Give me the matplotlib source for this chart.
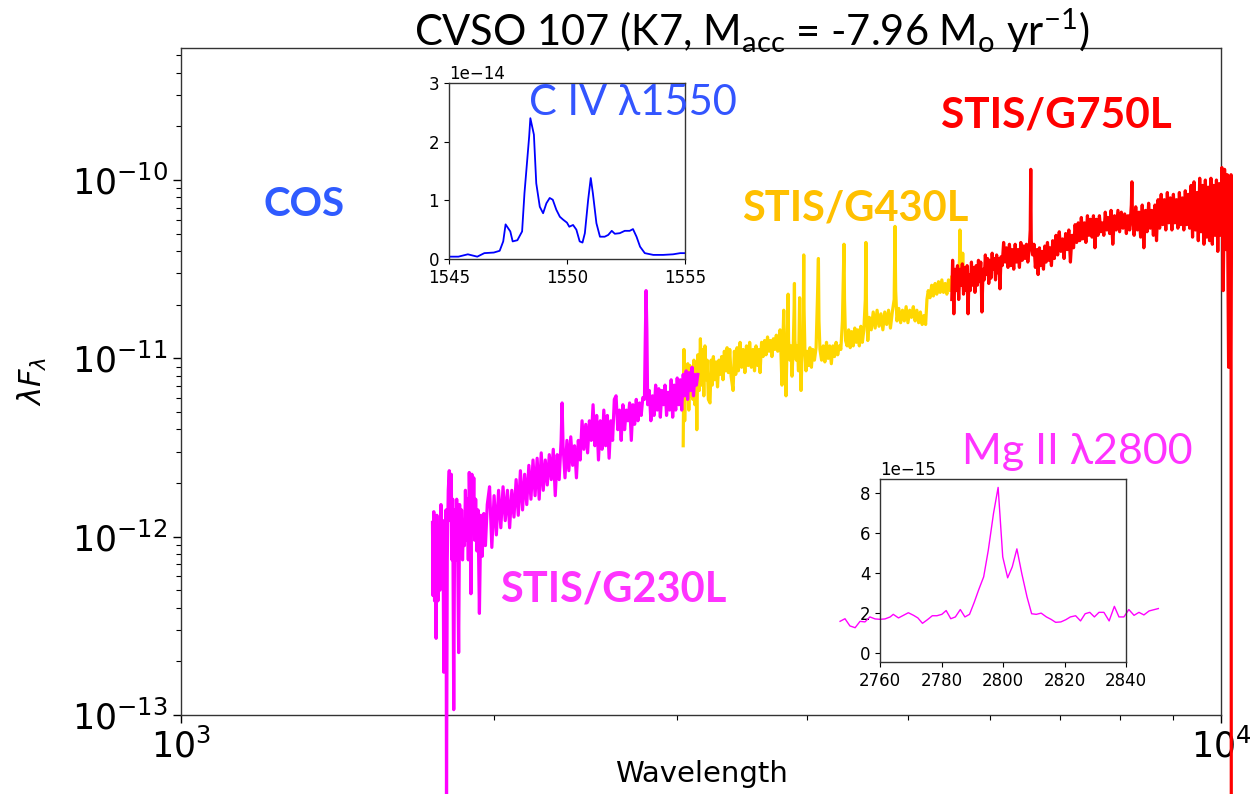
import numpy as np
import matplotlib
matplotlib.use("Agg")
import matplotlib.pyplot as plt

# ---------------- data ----------------
g230_wave = [1745,1747,1750,1753,1756,1759,1762,1766,1770,1774,1778,1782,1786,1789,1792,1795,1798,1800,1803,1807,
             1811,1815,1819,1822,1825,1829,1833,1837,1841,1845,1849,1853,1857,1861,1865,1869,1873,1877,1881,1885,
             1889,1893,1897,1900,1904,1908,1912,1916,1920,1925,1930,1936,1942,1948,1955,1962,1970,
             1980,1990,2000,2010,2020,2030,2040,2050,2060,2070,2080,2090,2100,2110,2120,2130,2140,2150,2160,2170,
             2180,2190,2200,2210,2220,2230,2240,2250,2260,2270,2280,2290,2300,2310,2320,2325,2330,2340,2350,2360,
             2370,2380,2390,2400,2410,2420,2430,2440,2450,2460,2470,2480,2490,2500,2510,2520,2530,2540,2550,2560,
             2570,2580,2590,2600,2610,2620,2630,2640,2650,2660,2670,2680,2690,2700,2710,2720,2730,2740,2750,2760,
             2770,2780,2790,2795,2800,2805,2810,2820,2830,2840,2850,2860,2870,2880,2890,2900,2910,2920,2930,2940,
             2950,2960,2970,2980,2990,3000,3010,3020,3030,3040,3050,3060,3070,3080,3090,3100,3110,3120,3130,3140]
g230_logf = [-11.92,-12.33,-11.86,-12.36,-11.91,-12.57,-11.88,-12.36,-11.96,-12.30,-11.82,-12.13,-11.91,-12.76,-12.02,-12.13,-11.85,-13.50,-12.13,-11.74,
             -11.63,-11.91,-11.65,-12.13,-11.79,-12.97,-11.85,-12.13,-11.79,-12.05,-12.65,-11.82,-12.08,-11.85,-12.13,-11.91,-12.05,-11.74,-12.02,-11.79,
             -12.13,-11.64,-11.91,-12.32,-11.65,-11.96,-11.67,-12.02,-11.79,-12.08,-11.85,-12.43,-11.88,-12.11,-11.87,-12.05,-11.82,
             -11.72,-12.06,-11.77,-11.99,-11.74,-11.95,-11.72,-11.91,-11.74,-11.95,-11.74,-11.89,-11.68,-11.88,-11.63,-11.85,-11.65,-11.82,-11.60,-11.79,
             -11.57,-11.77,-11.56,-11.79,-11.53,-11.74,-11.57,-11.71,-11.54,-11.68,-11.51,-11.77,-11.54,-11.68,-11.46,-11.25,-11.49,-11.67,-11.46,-11.63,
             -11.44,-11.60,-11.49,-11.67,-11.46,-11.57,-11.35,-11.51,-11.37,-11.53,-11.35,-11.46,-11.26,-11.49,-11.32,-11.57,-11.35,-11.51,-11.29,-11.49,
             -11.32,-11.56,-11.35,-11.46,-11.23,-11.21,-11.40,-11.29,-11.46,-11.26,-11.40,-11.29,-11.35,-11.25,-11.46,-11.26,-11.37,-11.23,-11.35,-11.25,
             -11.32,-11.22,-11.23,-10.90,-10.62,-10.84,-11.26,-11.18,-11.35,-11.21,-11.32,-11.15,-11.29,-11.17,-11.33,-11.18,-11.26,-11.15,-11.32,-11.19,
             -11.29,-11.12,-11.33,-11.15,-11.29,-11.11,-11.26,-11.12,-11.29,-11.09,-11.21,-11.07,-11.23,-11.08,-11.18,-11.05,-11.21,-11.09,-11.15,-11.09]

g430_wave = [3040,3045,3050,3057,3064,3071,3078,3085,3092,3099,3106,3113,3120,3127,3133,3140,3150,3158,3166,3174,
             3182,3190,3198,3206,3214,3226,3234,3242,3250,3260,3270,3280,3290,3300,3310,3320,3330,3340,3350,3360,
             3370,3380,3395,3405,3415,3425,3435,3448,3460,3472,3485,3497,3510,3522,3535,3548,3560,3572,3585,3595,
             3604,3616,3628,3640,3652,3664,3676,3688,3700,3712,3724,3736,3748,3760,3767,3775,3783,3790,3795,3798,
             3802,3810,3817,3825,3832,3835,3839,3850,3860,3868,3878,3886,3889,3893,3905,3915,3924,3931,3934,3938,
             3946,3955,3964,3968,3970,3973,3980,3990,4000,4012,4025,4038,4050,4065,4080,4092,4101,4106,4115,4130,
             4145,4160,4175,4190,4205,4220,4235,4250,4265,4280,4295,4310,4325,4340,4345,4355,4370,4385,4400,4415,
             4430,4445,4460,4475,4490,4505,4520,4535,4550,4556,4562,4575,4590,4610,4630,4650,4670,4690,4710,4730,
             4750,4770,4790,4810,4830,4850,4859,4866,4880,4900,4920,4940,4960,4980,5000,5020,5040,5060,5080,5100,
             5120,5140,5160,5180,5200,5215,5230,5250,5270,5290,5310,5330,5350,5370,5390,5410,5430,5450,5470,5490,
             5510,5530,5550,5570,5590,5605,5610,5615,5630,5645,5655,5670,5685,5698]
g430_logf = [-11.49,-10.95,-11.35,-11.04,-11.23,-11.03,-11.29,-11.04,-11.21,-11.07,-11.23,-11.01,-11.26,-11.05,-11.40,-10.98,-11.18,-10.89,-11.15,-10.95,
             -11.21,-10.93,-11.12,-11.01,-11.23,-11.25,-11.01,-11.15,-10.99,-11.12,-11.02,-11.16,-11.01,-11.09,-10.99,-11.12,-10.96,-11.07,-10.94,-11.08,
             -10.95,-11.10,-11.18,-10.96,-11.09,-10.94,-11.07,-10.91,-11.05,-10.95,-11.08,-10.93,-11.04,-10.91,-11.05,-10.95,-11.07,-10.93,-11.04,-10.95,
             -11.08,-10.91,-10.99,-10.90,-10.98,-10.88,-10.96,-10.90,-10.99,-10.89,-10.95,-10.87,-10.96,-10.88,-10.84,-10.98,-11.15,-10.90,-10.81,-10.73,
             -10.90,-11.04,-11.21,-10.95,-10.73,-10.64,-10.90,-11.01,-10.93,-11.10,-10.95,-10.73,-10.58,-10.90,-11.01,-10.93,-11.07,-10.79,-10.66,-10.90,
             -11.18,-10.98,-10.93,-10.62,-10.42,-10.73,-10.95,-11.07,-10.96,-11.04,-10.94,-11.05,-10.95,-11.01,-10.94,-10.67,-10.44,-10.79,-10.95,-11.01,
             -10.93,-11.02,-10.91,-11.00,-10.93,-11.03,-10.93,-10.99,-10.91,-10.98,-10.93,-10.95,-10.79,-10.36,-10.67,-10.90,-10.93,-10.84,-10.94,-10.85,
             -10.93,-10.83,-10.91,-10.84,-10.93,-10.82,-10.91,-10.84,-10.67,-10.35,-10.73,-10.90,-10.77,-10.84,-10.74,-10.83,-10.73,-10.82,-10.75,-10.84,
             -10.74,-10.81,-10.73,-10.83,-10.74,-10.67,-10.26,-10.62,-10.79,-10.72,-10.80,-10.73,-10.79,-10.71,-10.80,-10.73,-10.77,-10.71,-10.79,-10.73,
             -10.80,-10.74,-10.81,-10.76,-10.81,-10.67,-10.62,-10.66,-10.59,-10.65,-10.58,-10.64,-10.57,-10.63,-10.56,-10.63,-10.58,-10.64,-10.56,-10.62,
             -10.54,-10.60,-10.55,-10.59,-10.53,-10.45,-10.28,-10.50,-10.57,-10.41,-10.53,-10.59,-10.52,-10.56]

g750_wave = [5510,5520,5535,5550,5565,5580,5595,5610,5625,5640,5655,5670,5685,5700,5712,5725,5740,5755,5770,5785,
             5800,5815,5830,5845,5860,5875,5890,5905,5920,5935,5950,5965,5980,5995,6010,6025,6040,6055,6070,6085,
             6100,6115,6130,6145,6160,6180,6200,6220,6240,6260,6280,6300,6320,6340,6360,6380,6400,6420,6440,6460,
             6480,6500,6520,6540,6555,6563,6570,6590,6610,6630,6650,6670,6690,6710,6730,6750,6770,6790,6810,6830,
             6850,6870,6890,6915,6940,6965,6990,7015,7040,7065,7090,7115,7140,7165,7190,7215,7240,7265,7290,7315,
             7340,7365,7390,7415,7440,7465,7490,7515,7540,7565,7590,7615,7640,7665,7690,7715,7740,7765,7790,7815,
             7840,7870,7900,7930,7960,7990,8020,8050,8080,8110,8140,8170,8200,8210,8220,8250,8280,8310,8340,8370,
             8400,8430,8460,8490,8520,8550,8580,8610,8640,8670,8700,8730,8760,8790,8820,8850,8880,8910,8940,8970,
             9000,9030,9060,9090,9120,9150,9180,9210,9240,9270,9300,9330,9360,9390,9420,9450,9480,9510,9540,9570,
             9600,9630,9660,9690,9720,9750,9780,9810,9840,9870,9900,9930,9960,9990,10020,10050,10080,10110,10140,10170,
             10190,10210,10225,10235]
g750_logf = [-10.67,-10.45,-10.75,-10.50,-10.62,-10.48,-10.67,-10.50,-10.59,-10.47,-10.64,-10.49,-10.62,-10.48,-10.75,-10.53,-10.62,-10.46,-10.59,-10.49,
             -10.63,-10.48,-10.59,-10.45,-10.57,-10.46,-10.74,-10.50,-10.56,-10.42,-10.53,-10.44,-10.58,-10.45,-10.55,-10.41,-10.50,-10.44,-10.56,-10.42,
             -10.52,-10.44,-10.61,-10.43,-10.48,-10.35,-10.46,-10.38,-10.49,-10.36,-10.48,-10.39,-10.50,-10.36,-10.46,-10.39,-10.49,-10.35,-10.45,-10.37,
             -10.44,-10.36,-10.46,-10.39,-10.28,-9.94,-10.34,-10.42,-10.36,-10.49,-10.39,-10.53,-10.38,-10.48,-10.40,-10.50,-10.37,-10.46,-10.35,-10.45,
             -10.38,-10.48,-10.34,-10.44,-10.31,-10.42,-10.29,-10.40,-10.33,-10.44,-10.30,-10.39,-10.28,-10.46,-10.31,-10.38,-10.25,-10.35,-10.24,-10.34,
             -10.21,-10.33,-10.24,-10.35,-10.20,-10.31,-10.22,-10.32,-10.20,-10.38,-10.22,-10.31,-10.20,-10.29,-10.24,-10.31,-10.18,-10.28,-10.21,-10.30,
             -10.17,-10.36,-10.20,-10.28,-10.17,-10.29,-10.18,-10.27,-10.19,-10.30,-10.20,-10.28,-10.14,-10.01,-10.20,-10.31,-10.15,-10.28,-10.18,-10.32,
             -10.14,-10.38,-10.17,-10.29,-10.13,-10.27,-10.17,-10.31,-10.14,-10.34,-10.11,-10.27,-10.08,-10.25,-10.11,-10.28,-10.07,-10.24,-10.10,-10.28,
             -10.08,-10.24,-10.11,-10.27,-10.07,-10.25,-10.10,-10.28,-10.06,-10.25,-10.08,-10.27,-10.03,-10.32,-10.01,-10.28,-10.07,-10.34,-9.99,-10.29,
             -10.03,-10.36,-10.00,-10.32,-10.04,-10.34,-9.99,-10.36,-10.03,-10.31,-10.00,-10.40,-10.02,-10.31,-9.93,-10.62,-9.94,-10.39,-9.97,-11.05,
             -10.11,-11.05,-9.97,-16.0]

civ_wave = [1545.0,1545.4,1545.8,1546.2,1546.5,1546.9,1547.15,1547.3,1547.4,1547.6,1547.7,1547.9,1548.1,1548.2,1548.4,1548.45,1548.6,1548.7,
            1548.85,1548.99,1549.13,1549.27,1549.4,1549.55,1549.7,1549.84,1550.0,1550.1,1550.26,1550.4,1550.54,1550.66,1550.76,1550.9,1551.01,
            1551.1,1551.25,1551.4,1551.6,1551.75,1551.9,1552.03,1552.24,1552.45,1552.66,1552.8,1552.95,1553.1,1553.3,1553.66,1554.08,1554.5,
            1554.8,1555.0]
civ_flux_e14 = [0.04,0.04,0.08,0.04,0.10,0.11,0.14,0.30,0.59,0.47,0.30,0.32,0.47,1.12,2.09,2.40,2.12,1.29,
                0.89,0.78,0.95,1.04,1.01,0.84,0.72,0.67,0.62,0.55,0.58,0.50,0.30,0.28,0.44,1.01,1.38,
                1.12,0.61,0.38,0.38,0.41,0.48,0.43,0.44,0.48,0.48,0.51,0.38,0.21,0.10,0.07,0.07,0.08,
                0.10,0.10]

mgii_wave = [2747.0,2748.6,2750.2,2751.9,2753.5,2755.1,2756.7,2758.4,2760.0,2761.6,2763.3,2764.3,2766.0,2767.6,2769.2,2770.9,2772.3,2773.8,
             2775.4,2777.0,2778.5,2780.1,2781.5,2783.0,2784.5,2786.1,2787.6,2789.1,2790.6,2792.1,2793.7,2795.2,2796.9,2798.4,2799.9,2801.5,
             2803.0,2804.5,2806.1,2807.8,2809.3,2810.8,2812.4,2814.1,2815.6,2817.1,2818.8,2820.4,2821.9,2823.6,2825.2,2826.7,2828.2,2829.7,
             2831.2,2832.8,2834.5,2836.2,2837.7,2839.3,2840.9,2842.6,2844.2,2845.8,2847.5,2850.5]
mgii_flux_e15 = [1.59,1.72,1.36,1.27,1.59,1.56,1.81,1.71,1.69,1.71,1.81,1.94,1.76,1.89,2.02,1.89,1.76,1.49,
                 1.67,1.87,1.87,1.94,2.13,1.72,1.81,2.18,1.81,1.94,2.53,3.18,3.82,5.15,7.00,8.30,4.82,3.77,
                 4.32,5.22,3.98,2.81,1.97,1.94,2.00,1.81,1.69,1.54,1.56,1.67,1.81,1.87,1.61,1.97,2.04,1.81,
                 2.04,2.04,1.61,2.34,1.81,1.81,2.18,1.89,2.04,1.91,2.11,2.23]

# ---------------- figure ----------------
plt.rcParams['mathtext.fontset'] = 'custom'
plt.rcParams['mathtext.rm'] = 'Lato'
plt.rcParams['mathtext.it'] = 'DejaVu Sans:italic'

LBL = ['Lato', 'DejaVu Sans']

fig = plt.figure(figsize=(12.59, 7.94), dpi=100)
ax = fig.add_axes([0.1438, 0.0995, 0.826, 0.840])

ax.plot(g230_wave, 10 ** np.array(g230_logf), color='#FF00FF', lw=2.3, clip_on=False, zorder=3)
ax.plot(g430_wave, 10 ** np.array(g430_logf), color='#FFD700', lw=2.3, clip_on=False, zorder=2)
ax.plot(g750_wave, 10 ** np.array(g750_logf), color='#FF0000', lw=2.3, clip_on=False, zorder=4)

ax.set_xscale('log')
ax.set_yscale('log')
ax.set_xlim(1e3, 1e4)
ax.set_ylim(1e-13, 5.5e-10)
ax.tick_params(axis='both', which='major', labelsize=25, length=6, width=1)
ax.tick_params(axis='both', which='minor', length=3.5, width=0.8)
for s in ax.spines.values():
    s.set_linewidth(1.0)
    s.set_color('#333333')
ax.set_xlabel('Wavelength', fontsize=21, labelpad=-3)
ax.set_ylabel(r'$\lambda F_\lambda$', fontsize=22, labelpad=16)

# title
fig.text(0.597, 0.962, r'CVSO 107 (K7, M$_{\mathrm{acc}}$ = -7.96 M$_{\mathrm{o}}$ yr$^{\mathrm{-1}}$)',
         ha='center', va='center', fontsize=30, family=LBL)

# instrument labels
fig.text(0.2415, 0.742, 'COS', color='#2F5BFF', fontsize=29, fontweight='bold',
         ha='center', va='center', family=LBL)
fig.text(0.8388, 0.855, 'STIS/G750L', color='#FF0000', fontsize=30.5, fontweight='bold',
         ha='center', va='center', family=LBL)
fig.text(0.679, 0.738, 'STIS/G430L', color='#FFC000', fontsize=30, fontweight='bold',
         ha='center', va='center', family=LBL)
fig.text(0.4873, 0.257, 'STIS/G230L', color='#FF33FF', fontsize=30, fontweight='bold',
         ha='center', va='center', family=LBL)

# inset C IV
ax1 = fig.add_axes([0.3566, 0.6738, 0.1874, 0.2217])
ax1.plot(civ_wave, np.array(civ_flux_e14) * 1e-14, color='#0000FF', lw=1.3)
ax1.set_xlim(1545, 1555)
ax1.set_ylim(0, 3e-14)
ax1.set_xticks([1545, 1550, 1555])
ax1.set_yticks([0, 1e-14, 2e-14, 3e-14])
ax1.ticklabel_format(style='sci', axis='y', scilimits=(0, 0))
ax1.tick_params(labelsize=12, length=3.5)
ax1.yaxis.get_offset_text().set_fontsize(12)

# inset Mg II
ax2 = fig.add_axes([0.699, 0.1662, 0.1954, 0.2305])
ax2.plot(mgii_wave, np.array(mgii_flux_e15) * 1e-15, color='#FF00FF', lw=1.0, clip_on=False)
ax2.set_xlim(2760, 2840)
ax2.set_ylim(-0.45e-15, 8.72e-15)
ax2.set_xticks([2760, 2780, 2800, 2820, 2840])
ax2.set_yticks([0, 2e-15, 4e-15, 6e-15, 8e-15])
ax2.ticklabel_format(style='sci', axis='y', scilimits=(0, 0))
ax2.tick_params(labelsize=12, length=3.5)
ax2.yaxis.get_offset_text().set_fontsize(12)

for a in (ax1, ax2):
    for s in a.spines.values():
        s.set_linewidth(1.0)
        s.set_color('#333333')

fig.text(0.503, 0.870, 'C IV λ1550', color='#3355FF', fontsize=30,
         ha='center', va='center', family=LBL)
fig.text(0.856, 0.431, 'Mg II λ2800', color='#FF33FF', fontsize=31,
         ha='center', va='center', family=LBL)

fig.savefig('out.png', dpi=100)
